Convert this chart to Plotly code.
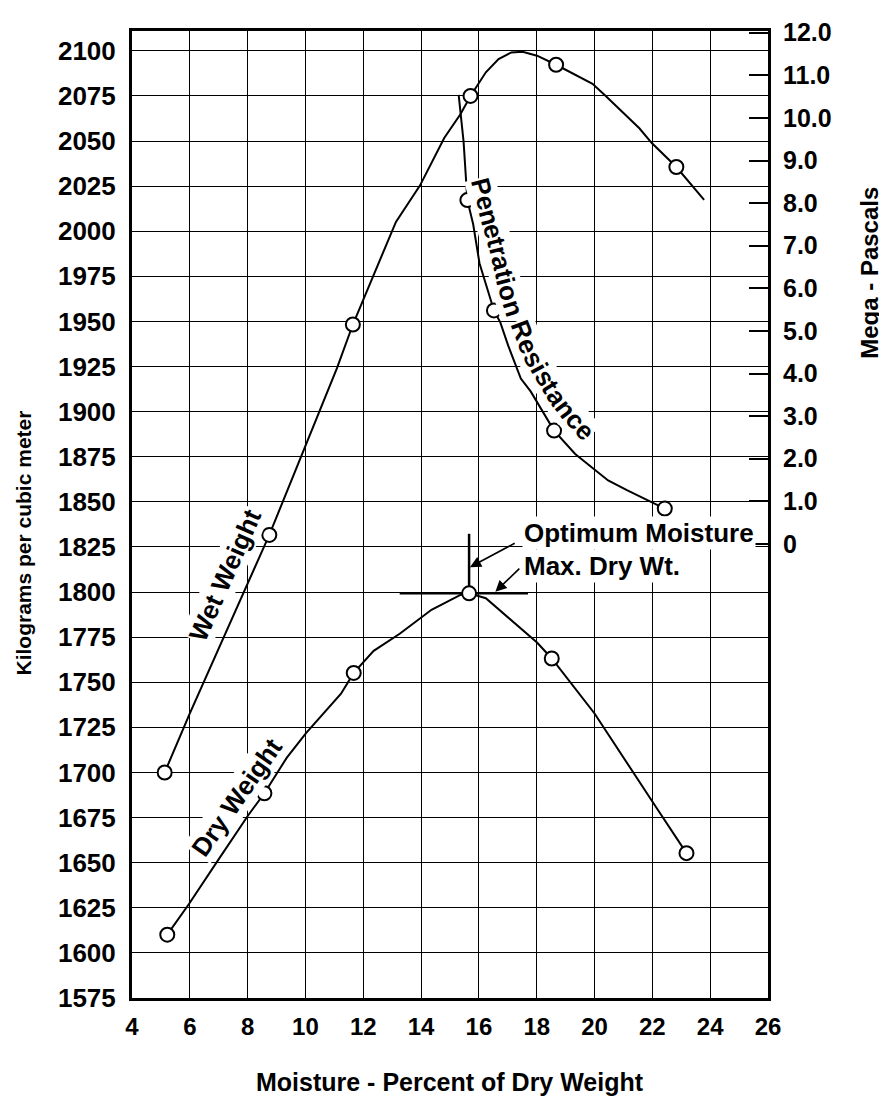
import math
import plotly.graph_objects as go

# ---------------- data ----------------
moisture_ticks = list(range(4, 27, 2))
density_ticks = list(range(1575, 2101, 25))
mpa_ticks = list(range(0, 13))
mpa_ticktext = ["0"] + [f"{v:.1f}" for v in range(1, 13)]

# Wet weight (kg/m3)
wet_pts_x = [5.13, 8.75, 11.64, 15.71, 18.67, 22.83]
wet_pts_y = [1700.0, 1831.7, 1948.3, 2075.0, 2092.3, 2035.6]
wet_curve_x = [5.13, 6.0, 8.75, 11.09, 11.64, 13.13, 13.96, 14.8, 15.36, 15.71, 16.24,
               16.68, 17.12, 17.51, 18.01, 18.67, 19.93, 20.36, 21.55, 21.98, 22.83, 23.79]
wet_curve_y = [1700.0, 1732.8, 1831.7, 1924.1, 1948.3, 2005.2, 2025.3, 2051.7, 2064.8, 2075.0,
               2088.1, 2095.4, 2099.1, 2099.5, 2097.3, 2092.3, 2081.7, 2075.4, 2057.1, 2048.9,
               2035.6, 2017.4]

# Dry weight (kg/m3)
dry_pts_x = [5.22, 8.58, 11.67, 15.66, 18.52, 23.18]
dry_pts_y = [1610.1, 1688.5, 1755.2, 1799.3, 1763.2, 1655.3]
dry_curve_x = [5.22, 5.97, 6.99, 8.02, 8.58, 9.35, 10.02, 11.23, 11.67, 12.36, 13.26, 14.36,
               15.36, 15.66, 16.24, 18.01, 18.52, 20.0, 22.09, 23.18]
dry_curve_y = [1610.1, 1627.1, 1651.7, 1676.3, 1688.5, 1708.1, 1721.8, 1743.7, 1755.2, 1767.4,
               1776.9, 1790.2, 1798.4, 1799.3, 1796.6, 1772.0, 1763.2, 1732.7, 1681.7, 1655.3]

# Penetration resistance (MPa)
pen_pts_x = [15.6, 16.52, 18.6, 22.43]
pen_pts_y = [8.07, 5.48, 2.66, 0.83]
pen_curve_x = [15.30, 15.47, 15.6, 15.8, 16.02, 16.52, 16.74, 17.01, 17.45, 17.79, 18.6,
               19.33, 20.47, 21.12, 22.43]
pen_curve_y = [10.54, 9.44, 8.07, 7.51, 6.59, 5.48, 5.20, 4.66, 3.88, 3.58, 2.66,
               2.11, 1.49, 1.26, 0.83]

opt_moisture = 15.66
max_dry_wt = 1799.3

# ---------------- layout constants ----------------
FONT = "Liberation Sans, Arial, Helvetica, sans-serif"
X_RANGE = [4, 26]
Y_RANGE = [1575, 2111]
Y2_RANGE = [-10.66, 12.04]
PLOT_L, PLOT_T, PLOT_W, PLOT_H = 132, 18, 636, 980   # page pixels of the plotting area


def px_to_x(px):
    return X_RANGE[0] + (px - PLOT_L) * (X_RANGE[1] - X_RANGE[0]) / PLOT_W


def py_to_y2(py):
    return Y2_RANGE[1] - (py - PLOT_T) * (Y2_RANGE[1] - Y2_RANGE[0]) / PLOT_H


def bf(size):
    return dict(family=FONT, size=size, color="black", weight="bold")


fig = go.Figure()

line_style = dict(color="black", width=2)
marker_style = dict(symbol="circle", size=14, color="white", line=dict(color="black", width=2))

fig.add_trace(go.Scatter(x=wet_curve_x, y=wet_curve_y, mode="lines", line=line_style,
                         showlegend=False, hoverinfo="skip"))
fig.add_trace(go.Scatter(x=dry_curve_x, y=dry_curve_y, mode="lines", line=line_style,
                         showlegend=False, hoverinfo="skip"))
fig.add_trace(go.Scatter(x=pen_curve_x, y=pen_curve_y, mode="lines", line=line_style,
                         yaxis="y2", showlegend=False, hoverinfo="skip"))

# optimum moisture / max dry weight markers
fig.add_trace(go.Scatter(x=[opt_moisture, opt_moisture], y=[max_dry_wt, max_dry_wt + 33],
                         mode="lines", line=dict(color="black", width=2.5),
                         showlegend=False, hoverinfo="skip"))
fig.add_trace(go.Scatter(x=[opt_moisture - 2.4, opt_moisture + 2.04], y=[max_dry_wt, max_dry_wt],
                         mode="lines", line=dict(color="black", width=2.5),
                         showlegend=False, hoverinfo="skip"))

fig.add_trace(go.Scatter(x=wet_pts_x, y=wet_pts_y, mode="markers", marker=marker_style,
                         name="Wet Weight", showlegend=False))
fig.add_trace(go.Scatter(x=dry_pts_x, y=dry_pts_y, mode="markers", marker=marker_style,
                         name="Dry Weight", showlegend=False))
fig.add_trace(go.Scatter(x=pen_pts_x, y=pen_pts_y, mode="markers", marker=marker_style,
                         yaxis="y2", name="Penetration Resistance", showlegend=False))

LBL = 26
lbl = bf(LBL)

ann = []
ann.append(dict(x=7.23, y=1809.3, xref="x", yref="y", text="Wet Weight", showarrow=False,
                textangle=-66, font=lbl, bgcolor="white"))
ann.append(dict(x=7.63, y=1686.5, xref="x", yref="y", text="Dry Weight", showarrow=False,
                textangle=-55, font=lbl, bgcolor="white"))

# "Penetration Resistance" set letter by letter along a curved path (page pixels)
curve_text = "Penetration Resistance"
char_w = {"P": .667, "e": .556, "n": .611, "t": .333, "r": .389, "a": .556, "i": .278,
          "o": .611, " ": .278, "R": .722, "s": .556, "c": .556}
label_path_px = [(481.7, 176), (490, 208), (498, 238), (506, 272), (514, 300),
                 (522, 322), (532, 346), (544, 368), (558, 390), (573, 410), (590, 428)]

seg_len = [math.dist(label_path_px[i], label_path_px[i + 1]) for i in range(len(label_path_px) - 1)]


def point_at(s):
    s = max(0.0, s)
    for i, L in enumerate(seg_len):
        if s <= L or i == len(seg_len) - 1:
            t = s / L
            (x0, y0), (x1, y1) = label_path_px[i], label_path_px[i + 1]
            return x0 + t * (x1 - x0), y0 + t * (y1 - y0)
        s -= L


widths = [char_w[c] * LBL for c in curve_text]
acc = 0.0
for c, w in zip(curve_text, widths):
    s_c = acc + w / 2 - widths[0] / 2
    acc += w
    if c == " ":
        continue
    px, py = point_at(s_c)
    ax_, ay_ = point_at(s_c - 9)
    bx_, by_ = point_at(s_c + 9)
    ang = math.degrees(math.atan2(by_ - ay_, bx_ - ax_))
    ann.append(dict(x=px_to_x(px), y=py_to_y2(py), xref="x", yref="y2", text=c, showarrow=False,
                    textangle=ang, font=lbl, bgcolor="white", borderpad=0))

ann.append(dict(x=17.5, y=1833.0, xref="x", yref="y", text="Optimum Moisture", showarrow=False,
                xanchor="left", yanchor="middle", font=lbl, bgcolor="white"))
ann.append(dict(x=17.5, y=1814.2, xref="x", yref="y", text="Max. Dry Wt.", showarrow=False,
                xanchor="left", yanchor="middle", font=lbl, bgcolor="white"))
# arrows
ann.append(dict(x=15.69, y=1813.8, ax=17.29, ay=1827.5, xref="x", yref="y", axref="x", ayref="y",
                text="", showarrow=True, arrowhead=2, arrowsize=1.4, arrowwidth=1.6, arrowcolor="black"))
ann.append(dict(x=16.57, y=1800.2, ax=17.45, ay=1813.8, xref="x", yref="y", axref="x", ayref="y",
                text="", showarrow=True, arrowhead=2, arrowsize=1.4, arrowwidth=1.6, arrowcolor="black"))
# axis titles
ann.append(dict(x=-0.1698, y=0.47, xref="paper", yref="paper", text="Kilograms per cubic meter",
                xanchor="center", yanchor="middle",
                showarrow=False, textangle=-90, font=bf(21)))
ann.append(dict(x=1.1604, y=0.75, xref="paper", yref="paper", text="Mega - Pascals",
                xanchor="center", yanchor="middle",
                showarrow=False, textangle=-90, font=bf(24)))
ann.append(dict(x=0.5, y=-0.0867, xref="paper", yref="paper", text="Moisture - Percent of Dry Weight",
                xanchor="center", yanchor="middle",
                showarrow=False, font=bf(25)))

# page has an 8px body margin, so the figure is 8px smaller than the window on each axis
fig.update_layout(
    width=879, height=1097,
    margin=dict(l=PLOT_L - 8, r=879 + 8 - PLOT_L - PLOT_W, t=PLOT_T - 8, b=1097 + 8 - PLOT_T - PLOT_H),
    paper_bgcolor="white", plot_bgcolor="white",
    showlegend=False,
    annotations=ann,
    xaxis=dict(range=X_RANGE, tickvals=moisture_ticks, showgrid=True, gridcolor="black", gridwidth=1.4,
               showline=True, linecolor="black", linewidth=3, mirror=True, zeroline=False,
               ticks="", tickfont=bf(24), ticklabelstandoff=5),
    yaxis=dict(range=Y_RANGE, tickvals=density_ticks, showgrid=True, gridcolor="black", gridwidth=1.4,
               showline=True, linecolor="black", linewidth=3, mirror=True, zeroline=False,
               ticks="", tickfont=bf(26), ticklabelstandoff=8),
    yaxis2=dict(range=Y2_RANGE, overlaying="y", side="right", tickvals=mpa_ticks,
                ticktext=mpa_ticktext, showgrid=False, zeroline=False, showline=False,
                ticks="inside", ticklen=19, tickwidth=1.5, tickcolor="black",
                tickfont=bf(25), ticklabelstandoff=14),
)

fig.write_html("out.html")
